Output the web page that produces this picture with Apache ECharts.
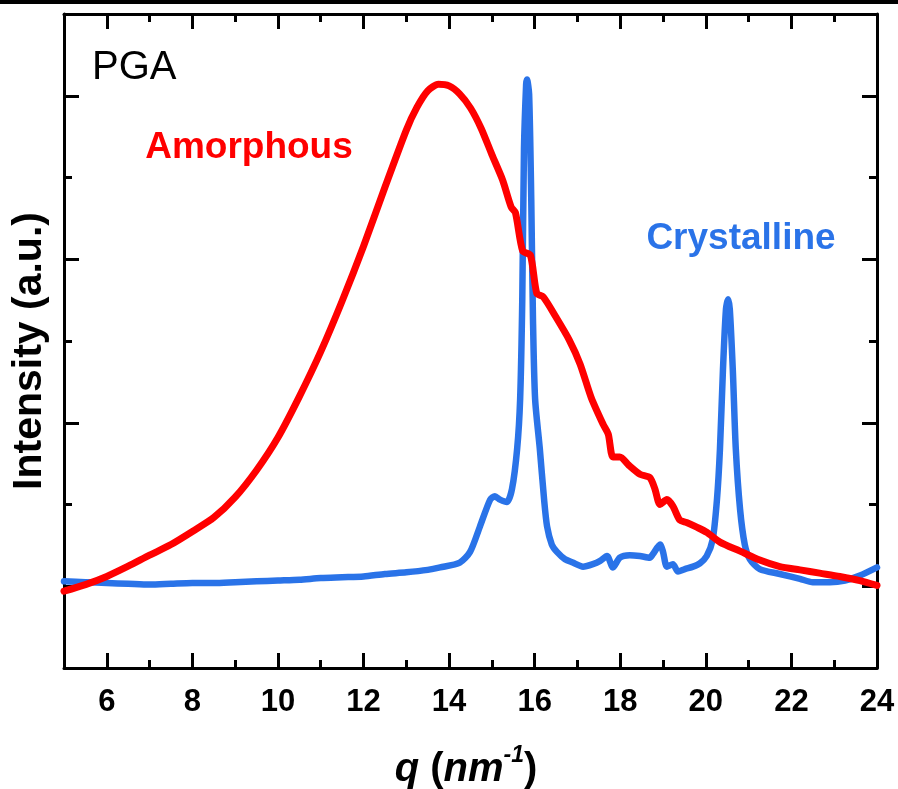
<!DOCTYPE html>
<html>
<head>
<meta charset="utf-8">
<script src="https://cdn.jsdelivr.net/npm/echarts@6/dist/echarts.min.js"></script>
<style>
  html, body { margin: 0; padding: 0; background: #fff; }
  #chart { width: 898px; height: 789px; }
</style>
</head>
<body>
<div id="chart"></div>
<script>
// Scattering vector q (nm^-1) and intensity (a.u.) of the amorphous PGA pattern
const amorphousQ = [5.0, 5.5, 6.0, 6.5, 7.0, 7.5, 8.0, 8.5, 9.0, 9.5, 10.0, 10.5, 11.0, 11.5, 12.0, 12.5, 13.0, 13.25, 13.5, 13.75, 14.0, 14.25, 14.5, 14.75, 15.0, 15.25, 15.45, 15.55, 15.72, 15.9, 16.05, 16.2, 16.5, 16.8, 17.06, 17.32, 17.6, 17.72, 17.83, 17.99, 18.2, 18.46, 18.69, 18.81, 18.93, 19.09, 19.23, 19.39, 19.55, 19.8, 20.02, 20.33, 20.8, 21.26, 21.73, 22.2, 22.66, 23.13, 23.6, 24.0];
const amorphousI = [-0.06, 0.02, 0.12, 0.245, 0.38, 0.51, 0.67, 0.84, 1.09, 1.42, 1.82, 2.32, 2.87, 3.49, 4.16, 4.88, 5.58, 5.86, 6.06, 6.14, 6.12, 6.02, 5.85, 5.60, 5.28, 4.97, 4.64, 4.57, 4.10, 4.05, 3.58, 3.54, 3.29, 3.02, 2.72, 2.31, 1.98, 1.86, 1.58, 1.58, 1.48, 1.37, 1.33, 1.19, 1.00, 1.06, 0.98, 0.81, 0.78, 0.72, 0.66, 0.54, 0.43, 0.32, 0.24, 0.20, 0.16, 0.12, 0.07, 0.01];

// Crystalline PGA pattern
const crystallineQ = [5.0, 5.5, 6.0, 6.5, 7.0, 7.5, 8.0, 8.5, 9.0, 9.5, 10.0, 10.5, 11.0, 11.5, 12.0, 12.5, 13.0, 13.5, 13.79, 14.25, 14.49, 14.72, 14.96, 15.07, 15.19, 15.35, 15.47, 15.59, 15.66, 15.71, 15.75, 15.80, 15.82, 15.87, 15.92, 15.96, 16.01, 16.12, 16.22, 16.29, 16.40, 16.52, 16.71, 16.89, 17.13, 17.36, 17.53, 17.69, 17.83, 17.99, 18.22, 18.46, 18.69, 18.76, 18.93, 19.0, 19.09, 19.23, 19.35, 19.51, 19.70, 19.86, 20.02, 20.16, 20.26, 20.33, 20.40, 20.47, 20.52, 20.56, 20.63, 20.70, 20.80, 20.91, 21.03, 21.26, 21.73, 22.20, 22.50, 22.90, 23.25, 23.60, 24.0];
const crystallineI = [0.06, 0.05, 0.04, 0.03, 0.02, 0.03, 0.04, 0.04, 0.05, 0.06, 0.07, 0.08, 0.10, 0.11, 0.12, 0.15, 0.17, 0.20, 0.23, 0.29, 0.42, 0.73, 1.06, 1.10, 1.06, 1.03, 1.19, 1.68, 2.29, 3.51, 5.35, 6.14, 6.20, 6.02, 4.73, 3.27, 2.29, 1.68, 1.06, 0.73, 0.51, 0.42, 0.33, 0.29, 0.24, 0.27, 0.31, 0.37, 0.23, 0.35, 0.38, 0.37, 0.35, 0.39, 0.51, 0.42, 0.24, 0.27, 0.18, 0.21, 0.24, 0.28, 0.37, 0.57, 1.06, 1.68, 2.65, 3.39, 3.51, 3.39, 2.65, 1.68, 0.94, 0.51, 0.33, 0.21, 0.15, 0.09, 0.05, 0.05, 0.07, 0.13, 0.23];

// Axis ranges and tick positions
const qRange = [5, 24];
const intensityRange = [-1, 7];
const qMajorTicks = [6, 8, 10, 12, 14, 16, 18, 20, 22, 24];
const qMinorTicks = [7, 9, 11, 13, 15, 17, 19, 21, 23];
const intensityMajorTicks = [0, 2, 4, 6];
const intensityMinorTicks = [1, 3, 5];

const FONT = '"Liberation Sans", Arial, Helvetica, sans-serif';
const RED = '#ff0000';
const BLUE = '#2a73e8';

const zip = (xs, ys) => xs.map((x, i) => [x, ys[i]]);

function xAxisDef(position, ticks, len, showLine, showLabels) {
  return {
    type: 'value', position, min: qRange[0], max: qRange[1],
    axisLine: { show: showLine, onZero: false, lineStyle: { color: '#000', width: 3 } },
    axisTick: { show: true, inside: true, length: len, customValues: ticks,
                lineStyle: { color: '#000', width: 3 } },
    axisLabel: showLabels ? {
      show: true, customValues: qMajorTicks, margin: 19,
      color: '#000', fontFamily: FONT, fontWeight: 'bold', fontSize: 31
    } : { show: false },
    splitLine: { show: false }
  };
}
function yAxisDef(position, ticks, len, showLine) {
  return {
    type: 'value', position, min: intensityRange[0], max: intensityRange[1],
    axisLine: { show: showLine, onZero: false, lineStyle: { color: '#000', width: 3 } },
    axisTick: { show: true, inside: true, length: len, customValues: ticks,
                lineStyle: { color: '#000', width: 3 } },
    axisLabel: { show: false },
    splitLine: { show: false }
  };
}

const chart = echarts.init(document.getElementById('chart'), null, { renderer: 'canvas' });
chart.setOption({
  animation: false,
  backgroundColor: '#fff',
  grid: { left: 64, right: 21, top: 14, bottom: 121 },
  xAxis: [
    xAxisDef('bottom', qMajorTicks, 15, true, true),
    xAxisDef('bottom', qMinorTicks, 8, false, false),
    xAxisDef('top', qMajorTicks, 15, true, false),
    xAxisDef('top', qMinorTicks, 8, false, false)
  ],
  yAxis: [
    yAxisDef('left', intensityMajorTicks, 15, true),
    yAxisDef('left', intensityMinorTicks, 8, false),
    yAxisDef('right', intensityMajorTicks, 15, true),
    yAxisDef('right', intensityMinorTicks, 8, false)
  ],
  series: [
    {
      name: 'Crystalline', type: 'line', xAxisIndex: 0, yAxisIndex: 0,
      data: zip(crystallineQ, crystallineI), showSymbol: false, smooth: 0.25,
      lineStyle: { color: BLUE, width: 6.5, cap: 'round', join: 'round' }, z: 2
    },
    {
      name: 'Amorphous', type: 'line', xAxisIndex: 0, yAxisIndex: 0,
      data: zip(amorphousQ, amorphousI), showSymbol: false, smooth: 0.25,
      lineStyle: { color: RED, width: 7, cap: 'round', join: 'round' }, z: 3
    }
  ],
  graphic: [
    { type: 'rect', shape: { x: 0, y: 0, width: 898, height: 4 }, style: { fill: '#000' } },
    { type: 'text', x: 92, y: 68,
      style: { text: 'PGA', fill: '#000', font: '40px ' + FONT, textAlign: 'left', textVerticalAlign: 'middle' } },
    { type: 'text', x: 249, y: 148,
      style: { text: 'Amorphous', fill: RED, font: 'bold 37px ' + FONT, textAlign: 'center', textVerticalAlign: 'middle' } },
    { type: 'text', x: 741, y: 239,
      style: { text: 'Crystalline', fill: BLUE, font: 'bold 37px ' + FONT, textAlign: 'center', textVerticalAlign: 'middle' } },
    { type: 'text', x: 30, y: 351, rotation: Math.PI / 2,
      style: { text: 'Intensity (a.u.)', fill: '#000', font: 'bold 41px ' + FONT, textAlign: 'center', textVerticalAlign: 'middle' } },
    { type: 'text', x: 466, y: 767,
      style: {
        text: '{i|q }{n|(}{i|nm}{s|-1}{n|)}', textAlign: 'center', textVerticalAlign: 'middle',
        rich: {
          i: { fontFamily: FONT, fontWeight: 'bold', fontStyle: 'italic', fontSize: 40, fill: '#000', verticalAlign: 'bottom', lineHeight: 46 },
          n: { fontFamily: FONT, fontWeight: 'bold', fontSize: 40, fill: '#000', verticalAlign: 'bottom', lineHeight: 46 },
          s: { fontFamily: FONT, fontWeight: 'bold', fontStyle: 'italic', fontSize: 23, fill: '#000', verticalAlign: 'top', lineHeight: 46 }
        }
      } }
  ]
});
</script>
</body>
</html>
